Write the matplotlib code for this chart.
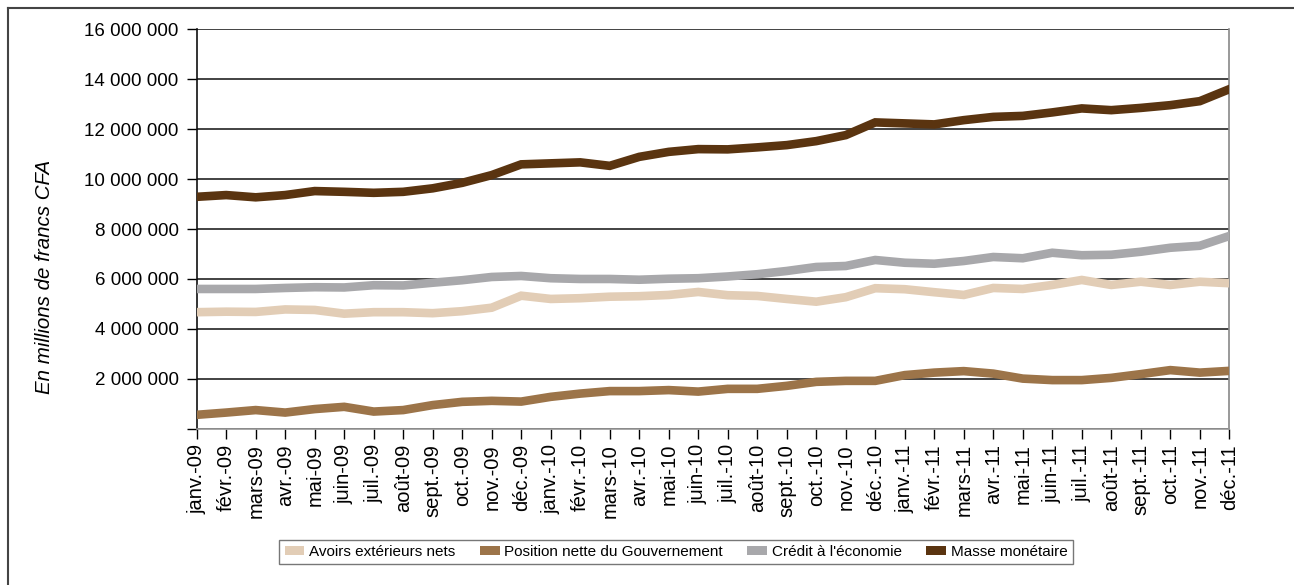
import numpy as np
import matplotlib.pyplot as plt
from matplotlib.patches import Patch
from matplotlib.lines import Line2D
from matplotlib.ticker import FuncFormatter

plt.rcParams['font.family'] = ['Liberation Sans', 'DejaVu Sans']

mois = ['janv.', 'févr.', 'mars', 'avr.', 'mai', 'juin', 'juil.', 'août',
        'sept.', 'oct.', 'nov.', 'déc.']
labels = [m + '-' + a for a in ['09', '10', '11'] for m in mois]

# en millions de francs CFA
avoirs = [4670000, 4690000, 4680000, 4780000, 4760000, 4610000, 4670000, 4670000,
          4630000, 4710000, 4850000, 5330000, 5200000, 5230000, 5290000, 5310000,
          5360000, 5480000, 5350000, 5320000, 5200000, 5090000, 5270000, 5630000,
          5590000, 5470000, 5360000, 5640000, 5600000, 5760000, 5960000, 5760000,
          5890000, 5760000, 5890000, 5830000]
position = [560000, 650000, 750000, 650000, 790000, 880000, 690000, 750000,
            950000, 1080000, 1120000, 1090000, 1280000, 1410000, 1510000, 1510000,
            1550000, 1490000, 1600000, 1600000, 1720000, 1880000, 1920000, 1920000,
            2150000, 2250000, 2310000, 2210000, 2010000, 1950000, 1950000, 2040000,
            2190000, 2350000, 2250000, 2320000]
credit = [5600000, 5600000, 5600000, 5640000, 5670000, 5660000, 5750000, 5740000,
          5850000, 5950000, 6080000, 6120000, 6030000, 6000000, 6000000, 5970000,
          6010000, 6030000, 6100000, 6190000, 6320000, 6480000, 6520000, 6760000,
          6650000, 6610000, 6720000, 6880000, 6830000, 7050000, 6950000, 6970000,
          7090000, 7250000, 7330000, 7720000]
masse = [9290000, 9360000, 9270000, 9360000, 9520000, 9490000, 9450000, 9490000,
         9630000, 9850000, 10160000, 10590000, 10630000, 10670000, 10530000, 10890000,
         11090000, 11200000, 11190000, 11270000, 11360000, 11520000, 11760000, 12270000,
         12230000, 12190000, 12360000, 12490000, 12530000, 12670000, 12830000, 12760000,
         12850000, 12960000, 13120000, 13600000]

series = ['Avoirs extérieurs nets', 'Position nette du Gouvernement',
          "Crédit à l'économie", 'Masse monétaire']
couleurs = ['#e2cdb6', '#9c7449', '#a8a8ab', '#5a3410']

fig = plt.figure(figsize=(12.94, 5.85), dpi=100)
ax = fig.add_axes([0.152, 0.267, 0.798, 0.683])

x = np.arange(len(labels))
for vals, c in zip([avoirs, position, credit, masse], couleurs):
    ax.plot(x, vals, color=c, lw=6.2, solid_joinstyle='miter', zorder=3)

ax.set_xlim(0, len(labels) - 1)
ax.set_ylim(0, 16000000)
ax.set_yticks(np.arange(0, 16000001, 2000000))
ax.yaxis.set_major_formatter(FuncFormatter(
    lambda v, p: '' if v == 0 else f'{int(v):,}'.replace(',', ' ')))
ax.set_xticks(x)
ax.set_xticklabels(labels, rotation=90, fontsize=14.5)
ax.tick_params(axis='y', labelsize=13.5, length=7, width=1, pad=6)
ax.tick_params(axis='x', length=7, width=1, pad=4)
ax.yaxis.grid(True, color='#222222', lw=1.2)
ax.set_axisbelow(True)

ax.spines['top'].set_visible(False)
ax.spines['left'].set_color('#111111')
ax.spines['bottom'].set_color('#999999')
ax.spines['right'].set_color('#888888')
for s in ax.spines.values():
    s.set_linewidth(1.2)

fig.text(45 / 1294, 1 - 277 / 585, 'En millions de francs CFA', rotation=90,
         style='italic', fontsize=14.8, ha='center', va='center')

handles = [Patch(facecolor=c, edgecolor='none') for c in couleurs]
leg = fig.legend(handles, series, loc='center', ncol=4,
                 bbox_to_anchor=(676 / 1294, 1 - 552 / 585), fontsize=11,
                 frameon=True, fancybox=False, edgecolor='#555555',
                 handlelength=1.3, handleheight=0.6, handletextpad=0.3,
                 columnspacing=1.6, borderpad=0.35)
leg.get_frame().set_linewidth(1)

# cadre de la page
fig.add_artist(Line2D([8 / 1294, 1], [1 - 8 / 585] * 2, color='#444444', lw=1.5))
fig.add_artist(Line2D([8 / 1294] * 2, [0, 1 - 8 / 585], color='#444444', lw=1.5))

fig.savefig('out.png', dpi=100)
